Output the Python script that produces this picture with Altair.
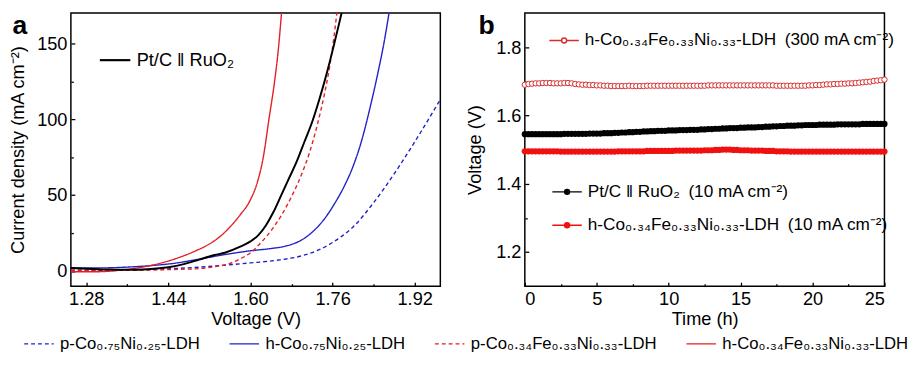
import altair as alt
import pandas as pd

FONT = "Liberation Sans"

# ---------------- panel a data ----------------
a_series = ["p-Co₀.₇₅Ni₀.₂₅-LDH", "h-Co₀.₇₅Ni₀.₂₅-LDH",
            "p-Co₀.₃₄Fe₀.₃₃Ni₀.₃₃-LDH", "h-Co₀.₃₄Fe₀.₃₃Ni₀.₃₃-LDH"]
a_colors = ["#2020c8", "#2020c8", "#e31e24", "#e31e24"]
a_dashes = [[4, 3], [1, 0], [4, 3], [1, 0]]

pco75_v = [1.25, 1.30, 1.35, 1.40, 1.45, 1.50, 1.55, 1.60, 1.65, 1.70, 1.74, 1.77, 1.80, 1.84, 1.88, 1.92, 1.97]
pco75_j = [0.5, 0.4, 0.6, 1.0, 1.6, 2.5, 3.8, 5.3, 7.0, 10.0, 15.0, 21.0, 29.0, 45.0, 64.0, 85.0, 113.0]

hco75_v = [1.25, 1.30, 1.35, 1.40, 1.45, 1.50, 1.55, 1.60, 1.64, 1.67, 1.70, 1.72, 1.745, 1.765, 1.783, 1.80, 1.815, 1.834, 1.848, 1.86, 1.871]
hco75_j = [2.0, 2.0, 2.4, 3.4, 5.0, 7.8, 10.8, 13.3, 14.8, 16.5, 20.5, 25.5, 34.7, 45.0, 56.0, 69.0, 84.0, 109.0, 130.0, 150.0, 172.0]

pcofe_v = [1.25, 1.30, 1.35, 1.40, 1.45, 1.50, 1.53, 1.56, 1.58, 1.60, 1.62, 1.64, 1.66, 1.68, 1.70, 1.715, 1.73, 1.745, 1.755, 1.763, 1.769]
pcofe_j = [0.3, 0.3, 0.4, 0.6, 1.0, 1.6, 2.8, 5.0, 8.0, 12.0, 18.5, 26.5, 36.5, 49.0, 64.0, 78.0, 96.0, 118.0, 136.0, 155.0, 172.0]

hcofe_v = [1.25, 1.30, 1.34, 1.37, 1.40, 1.43, 1.46, 1.49, 1.52, 1.54, 1.56, 1.58, 1.60, 1.613, 1.625, 1.636, 1.647, 1.654, 1.661]
hcofe_j = [-0.5, -0.5, 0.3, 1.5, 3.2, 5.6, 8.8, 12.8, 17.8, 22.5, 29.0, 37.0, 47.0, 58.0, 75.0, 100.0, 125.0, 145.0, 172.0]

ptc_label = "Pt/C ‖ RuO₂"
ptc_v = [1.25, 1.28, 1.32, 1.36, 1.40, 1.44, 1.47, 1.50, 1.53, 1.55, 1.58, 1.60, 1.615, 1.63, 1.645, 1.66, 1.675, 1.69, 1.705, 1.72, 1.735, 1.75, 1.762, 1.772, 1.779]
ptc_j = [2.0, 1.5, 1.0, 0.8, 1.2, 2.5, 4.5, 7.5, 10.5, 12.0, 16.0, 19.5, 23.5, 30.0, 39.0, 50.0, 61.0, 72.0, 85.0, 98.0, 114.0, 132.0, 148.0, 162.0, 172.0]

a_x_major = [1.28, 1.44, 1.60, 1.76, 1.92]
a_x_minor = [1.36, 1.52, 1.68, 1.84]
a_y_major = [0, 50, 100, 150]
a_y_minor = [25, 75, 125]
a_xdom = [1.25, 1.97]
a_ydom = [-10, 170]

# ---------------- panel b data ----------------
b_time = [i * 0.25 for i in range(101)]
b_open_label = "h-Co₀.₃₄Fe₀.₃₃Ni₀.₃₃-LDH\u2002(300 mA cm⁻²)"
b_open = [1.690, 1.692, 1.693, 1.694, 1.694, 1.695, 1.695, 1.695,
          1.694, 1.694, 1.694, 1.695, 1.695, 1.694, 1.692, 1.691,
          1.690, 1.690, 1.689, 1.689, 1.688, 1.688, 1.687, 1.687,
          1.686, 1.686, 1.686, 1.686, 1.686, 1.687, 1.686, 1.686,
          1.686, 1.686, 1.687, 1.687, 1.687, 1.687, 1.687, 1.687,
          1.687, 1.687, 1.687, 1.687, 1.687, 1.687, 1.687, 1.687,
          1.687, 1.687, 1.687, 1.688, 1.688, 1.688, 1.688, 1.688,
          1.688, 1.688, 1.688, 1.688, 1.688, 1.688, 1.688, 1.688,
          1.688, 1.688, 1.688, 1.688, 1.688, 1.688, 1.687, 1.687,
          1.687, 1.687, 1.687, 1.687, 1.687, 1.687, 1.687, 1.688,
          1.688, 1.689, 1.689, 1.690, 1.691, 1.691, 1.692, 1.692,
          1.693, 1.693, 1.694, 1.694, 1.695, 1.696, 1.697, 1.698,
          1.699, 1.701, 1.702, 1.703, 1.705]
b_ptc_label = "Pt/C ‖ RuO₂\u2002(10 mA cm⁻²)"
b_ptc = [1.545, 1.545, 1.545, 1.545, 1.545, 1.545, 1.545, 1.545,
         1.545, 1.545, 1.545, 1.546, 1.546, 1.546, 1.546, 1.546,
         1.546, 1.546, 1.547, 1.547, 1.547, 1.547, 1.548, 1.548,
         1.548, 1.549, 1.549, 1.550, 1.550, 1.551, 1.551, 1.552,
         1.552, 1.553, 1.553, 1.554, 1.554, 1.555, 1.555, 1.555,
         1.556, 1.556, 1.556, 1.557, 1.557, 1.557, 1.558, 1.558,
         1.558, 1.559, 1.559, 1.560, 1.560, 1.561, 1.561, 1.562,
         1.562, 1.563, 1.563, 1.563, 1.564, 1.564, 1.565, 1.565,
         1.565, 1.566, 1.566, 1.567, 1.567, 1.568, 1.568, 1.569,
         1.569, 1.570, 1.570, 1.570, 1.571, 1.571, 1.572, 1.572,
         1.572, 1.572, 1.573, 1.573, 1.573, 1.573, 1.573, 1.574,
         1.574, 1.574, 1.574, 1.574, 1.574, 1.574, 1.575, 1.575,
         1.575, 1.575, 1.575, 1.575, 1.575]
b_red_label = "h-Co₀.₃₄Fe₀.₃₃Ni₀.₃₃-LDH\u2002(10 mA cm⁻²)"
b_red = [1.495, 1.495, 1.495, 1.495, 1.495, 1.495, 1.495, 1.495,
         1.495, 1.495, 1.494, 1.494, 1.494, 1.494, 1.494, 1.494,
         1.494, 1.494, 1.494, 1.494, 1.494, 1.494, 1.494, 1.494,
         1.494, 1.494, 1.495, 1.495, 1.495, 1.495, 1.495, 1.495,
         1.495, 1.495, 1.496, 1.496, 1.496, 1.496, 1.496, 1.496,
         1.496, 1.496, 1.497, 1.497, 1.497, 1.497, 1.497, 1.497,
         1.497, 1.497, 1.498, 1.498, 1.498, 1.499, 1.499, 1.500,
         1.500, 1.500, 1.499, 1.499, 1.498, 1.498, 1.498, 1.497,
         1.497, 1.497, 1.497, 1.496, 1.496, 1.496, 1.495, 1.495,
         1.495, 1.495, 1.494, 1.494, 1.494, 1.494, 1.494, 1.494,
         1.494, 1.494, 1.494, 1.494, 1.494, 1.494, 1.494, 1.494,
         1.494, 1.494, 1.494, 1.494, 1.494, 1.494, 1.494, 1.494,
         1.494, 1.494, 1.494, 1.494, 1.494]

b_x_major = [0, 5, 10, 15, 20, 25]
b_x_minor = [2.5, 7.5, 12.5, 17.5, 22.5]
b_y_major = [1.2, 1.4, 1.6, 1.8]
b_y_minor = [1.3, 1.5, 1.7]
b_xdom = [0, 25]
b_ydom = [1.1, 1.9]

# ---------------- layout ----------------
WA, WB, H = 376, 366, 278
FS = 18.5   # axis text
LFS = 17.5  # legend text


def axis_layers(xdom, ydom, xmaj, xmin, ymaj, ymin, W, xtitle, ytitle, xfmt, yfmt,
                ylabpad, ytitlepad):
    d = pd.DataFrame({"x": [xdom[0]], "y": [ydom[0]]})
    xs = alt.Scale(domain=xdom, nice=False, zero=False)
    ys = alt.Scale(domain=ydom, nice=False, zero=False)
    base = alt.Chart(d).mark_point(opacity=0, size=1)
    labels = base.encode(
        x=alt.X("x:Q", scale=xs, axis=alt.Axis(
            orient="bottom", values=xmaj, format=xfmt, ticks=False, domain=False, grid=False,
            labelFontSize=FS, labelPadding=4, labelColor="black", labelFont=FONT,
            title=xtitle, titleFontSize=FS, titleFontWeight="normal", titlePadding=2,
            titleColor="black", titleFont=FONT)),
        y=alt.Y("y:Q", scale=ys, axis=alt.Axis(
            orient="left", values=ymaj, format=yfmt, ticks=False, domain=False, grid=False,
            labelFontSize=FS, labelPadding=ylabpad, labelColor="black", labelFont=FONT,
            title=ytitle, titleFontSize=FS, titleFontWeight="normal", titlePadding=ytitlepad,
            titleColor="black", titleFont=FONT)),
    )
    out = [labels]
    for xv, yv, sz in ((xmaj, ymaj, 4), (xmin, ymin, 2.5)):
        out.append(base.encode(
            x=alt.X("x:Q", scale=xs, axis=alt.Axis(
                orient="top", offset=-H, values=xv, tickSize=sz, tickWidth=1.3, tickColor="black",
                labels=False, domain=False, grid=False, title=None)),
            y=alt.Y("y:Q", scale=ys, axis=alt.Axis(
                orient="right", offset=-W, values=yv, tickSize=sz, tickWidth=1.3, tickColor="black",
                labels=False, domain=False, grid=False, title=None)),
        ))
    return out


# ---- panel a ----
rows = []
for name, vs, js in zip(a_series, [pco75_v, hco75_v, pcofe_v, hcofe_v], [pco75_j, hco75_j, pcofe_j, hcofe_j]):
    for v, j in zip(vs, js):
        rows.append({"series": name, "V": v, "J": j})
df_a = pd.DataFrame(rows)
df_ptc = pd.DataFrame({"series": ptc_label, "V": ptc_v, "J": ptc_j})

axs = alt.Scale(domain=a_xdom, nice=False, zero=False)
ays = alt.Scale(domain=a_ydom, nice=False, zero=False)

# small layout box (14 px) with a 30 px long line drawn to its right
bottom_legend = alt.Legend(
    orient="none", legendX=-49, legendY=328, direction="horizontal", title=None,
    symbolType="M-1,0L3.286,0", symbolSize=196, symbolStrokeWidth=1.5, labelFontSize=17,
    labelFont=FONT, labelColor="black", labelOffset=21, columnPadding=26, labelLimit=400, padding=0)

ldh = alt.Chart(df_a).mark_line(strokeWidth=1.4, clip=True, interpolate="monotone").encode(
    x=alt.X("V:Q", scale=axs, axis=None),
    y=alt.Y("J:Q", scale=ays, axis=None),
    color=alt.Color("series:N", scale=alt.Scale(domain=a_series, range=a_colors), legend=bottom_legend),
    strokeDash=alt.StrokeDash("series:N", scale=alt.Scale(domain=a_series, range=a_dashes), legend=bottom_legend),
)

ptc = alt.Chart(df_ptc).mark_line(strokeWidth=2, clip=True, interpolate="monotone").encode(
    x=alt.X("V:Q", scale=axs, axis=None),
    y=alt.Y("J:Q", scale=ays, axis=None),
    color=alt.Color("series:N", scale=alt.Scale(domain=[ptc_label], range=["black"]), legend=alt.Legend(
        orient="none", legendX=28, legendY=31, title=None, symbolType="stroke", symbolSize=961,
        symbolStrokeWidth=2.2, labelFontSize=FS, labelFont=FONT, labelColor="black", labelOffset=5,
        labelLimit=400, padding=0)),
)

label_a = alt.Chart(pd.DataFrame({"k": [0]})).mark_text(
    text="a", fontSize=27, fontWeight="bold", font=FONT, color="black", align="center", baseline="alphabetic"
).encode(x=alt.value(-52), y=alt.value(21))

panel_a = alt.layer(
    *axis_layers(a_xdom, a_ydom, a_x_major, a_x_minor, a_y_major, a_y_minor, WA,
                 "Voltage (V)", "Current density (mA cm⁻²)", ".2f", "d", 4, 9),
    ldh, ptc, label_a
).resolve_scale(color="independent", strokeDash="independent").resolve_axis(
    x="independent", y="independent").properties(width=WA, height=H)

# ---- panel b ----
bxs = alt.Scale(domain=b_xdom, nice=False, zero=False)
bys = alt.Scale(domain=b_ydom, nice=False, zero=False)

open_path = "M-1,0L-0.19,0M0.19,0L1,0M-0.17,0A0.17,0.17,0,1,1,0.17,0A0.17,0.17,0,1,1,-0.17,0Z"
fill_path = "M-1,0L1,0M-0.17,0A0.17,0.17,0,1,1,0.17,0A0.17,0.17,0,1,1,-0.17,0Z"


def b_layers(label, values, color, filled, size, lx, ly):
    d = pd.DataFrame({"s": label, "t": b_time, "v": values})
    line = alt.Chart(d).mark_line(color=color, strokeWidth=1).encode(
        x=alt.X("t:Q", scale=bxs, axis=None), y=alt.Y("v:Q", scale=bys, axis=None))
    pt_kwargs = dict(filled=filled, size=size, strokeWidth=1, shape="circle", opacity=1)
    if not filled:
        pt_kwargs["fill"] = "white"
    pts = alt.Chart(d).mark_point(**pt_kwargs).encode(
        x=alt.X("t:Q", scale=bxs, axis=None), y=alt.Y("v:Q", scale=bys, axis=None),
        color=alt.Color("s:N", scale=alt.Scale(domain=[label], range=[color]), legend=alt.Legend(
            orient="none", legendX=lx, legendY=ly, title=None,
            symbolType=open_path if not filled else fill_path, symbolSize=900,
            symbolStrokeWidth=1.4, symbolStrokeColor=color,
            symbolFillColor=color if filled else "white",
            labelFontSize=LFS, labelFont=FONT, labelColor="black", labelOffset=5, labelLimit=400,
            padding=0)))
    return [line, pts]


label_b = alt.Chart(pd.DataFrame({"k": [0]})).mark_text(
    text="b", fontSize=27, fontWeight="bold", font=FONT, color="black", align="center", baseline="alphabetic"
).encode(x=alt.value(-39), y=alt.value(21))

panel_b = alt.layer(
    *axis_layers(b_xdom, b_ydom, b_x_major, b_x_minor, b_y_major, b_y_minor, WB,
                 "Time (h)", "Voltage (V)", "d", ".1f", 4, 11),
    *b_layers(b_open_label, b_open, "#d42c2c", False, 30, 24, 12),
    *b_layers(b_ptc_label, b_ptc, "black", True, 40, 27, 166),
    *b_layers(b_red_label, b_red, "#f01010", True, 40, 27, 200),
    label_b
).resolve_scale(color="independent").resolve_axis(
    x="independent", y="independent").properties(width=WB, height=H)

chart = alt.hconcat(panel_a, panel_b, spacing=86, bounds="flush").properties(
    padding=0
).configure(font=FONT).configure_view(stroke="black", strokeWidth=1.5)

chart.save("out.html", embed_options={"renderer": "svg", "actions": False})
